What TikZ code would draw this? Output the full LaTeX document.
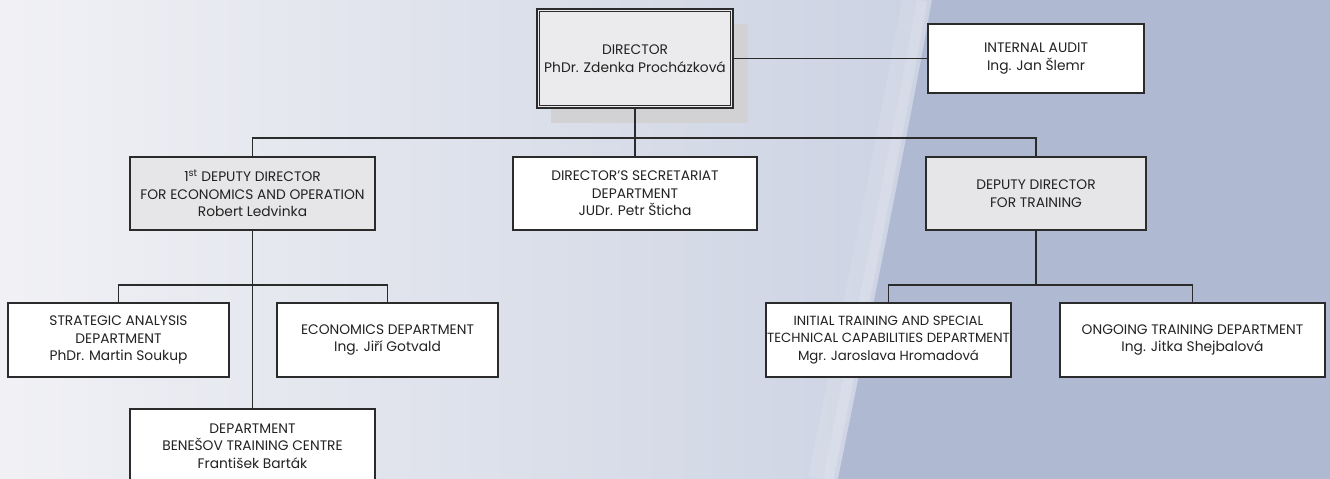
\documentclass[tikz,border=0pt]{standalone}
\usepackage{fontspec}
\setmainfont{Poppins}
\definecolor{bgA}{HTML}{F1F1F5}
\definecolor{bgM}{HTML}{E2E5EC}
\definecolor{bgB}{HTML}{CBD2E2}
\definecolor{bgR}{HTML}{AFB9D2}
\definecolor{linec}{HTML}{2B2B2B}
\definecolor{boxgray}{HTML}{E6E6E8}
\definecolor{shadowc}{HTML}{D2D2D4}
\definecolor{txt}{HTML}{222222}
\tikzset{
  orgbox/.style={draw=linec, line width=1.4pt, fill=white, align=center, inner sep=0pt,
    text=txt, font=\fontsize{13.8}{17.5}\selectfont},
  graybox/.style={orgbox, fill=boxgray},
  conn/.style={draw=linec, line width=1.5pt}
}
\begin{document}
\begin{tikzpicture}[x=1pt,y=-1pt]
\useasboundingbox (0,0) rectangle (1330,479);
\clip (0,0) rectangle (1330,479);
% background
\shade[left color=bgA, middle color=bgM, right color=bgB] (0,0) rectangle (940,479);
\fill[bgR] (932,0) .. controls (905,150) and (870,320) .. (838,479) -- (1330,479) -- (1330,0) -- cycle;
\draw[line width=26pt, white, opacity=0.10] (915,0) .. controls (888,150) and (853,320) .. (821,479);
\draw[line width=10pt, white, opacity=0.12] (922,0) .. controls (895,150) and (860,320) .. (828,479);
% shadow of director
\fill[shadowc] (551,24) rectangle (748,123);
% nodes
\node[graybox, fill=boxgray!80!white, minimum width=196pt, minimum height=99pt] (dir) at (635,58.5) {DIRECTOR\\PhDr. Zdenka Procházková};
\draw[draw=linec, line width=1.1pt] ([shift={(3.5,3.5)}]dir.north west) rectangle ([shift={(-3.5,-3.5)}]dir.south east);
\node[orgbox, minimum width=216pt, minimum height=69pt] (audit) at (1036,58.5) {INTERNAL AUDIT\\Ing. Jan Šlemr};
\node[graybox, minimum width=245pt, minimum height=73pt] (dep1) at (252.5,193.5) {1\textsuperscript{st} DEPUTY DIRECTOR\\FOR ECONOMICS AND OPERATION\\Robert Ledvinka};
\node[orgbox, minimum width=244pt, minimum height=73pt] (sec) at (635,193.5) {DIRECTOR\char39 S SECRETARIAT\\DEPARTMENT\\JUDr. Petr Šticha};
\node[graybox, minimum width=220pt, minimum height=73pt] (dep2) at (1036,193.5) {DEPUTY DIRECTOR\\FOR TRAINING};
\node[orgbox, minimum width=221pt, minimum height=74pt] (strat) at (118.5,340) {STRATEGIC ANALYSIS\\DEPARTMENT\\PhDr. Martin Soukup};
\node[orgbox, minimum width=221pt, minimum height=74pt] (econ) at (387.5,340) {ECONOMICS DEPARTMENT\\Ing. Jiří Gotvald};
\node[orgbox, minimum width=245pt, minimum height=74pt] (ben) at (252.5,446) {DEPARTMENT\\BENEŠOV TRAINING CENTRE\\František Barták};
\node[orgbox, font=\fontsize{13.3}{17.5}\selectfont, minimum width=245pt, minimum height=74pt] (init) at (888.5,340) {INITIAL TRAINING AND SPECIAL\\TECHNICAL CAPABILITIES DEPARTMENT\\Mgr. Jaroslava Hromadová};
\node[orgbox, minimum width=265pt, minimum height=74pt] (ongo) at (1192.5,340) {ONGOING TRAINING DEPARTMENT\\Ing. Jitka Shejbalová};
% bus coordinates
\coordinate (b1) at (635,138);
\coordinate (b2) at (252.5,285);
\coordinate (b3) at (1036,285);
% connectors
\draw[conn] (dir.east) -- (audit.west);
\draw[conn] (dir.south) -- (sec.north);
\draw[conn] (b1) -| (dep1.north);
\draw[conn] (b1) -| (dep2.north);
\draw[conn] (dep1.south) -- (ben.north);
\draw[conn] (b2) -| (strat.north);
\draw[conn] (b2) -| (econ.north);
\draw[conn] (dep2.south) -- (b3);
\draw[conn] (b3) -| (init.north);
\draw[conn] (b3) -| (ongo.north);
\end{tikzpicture}
\end{document}
